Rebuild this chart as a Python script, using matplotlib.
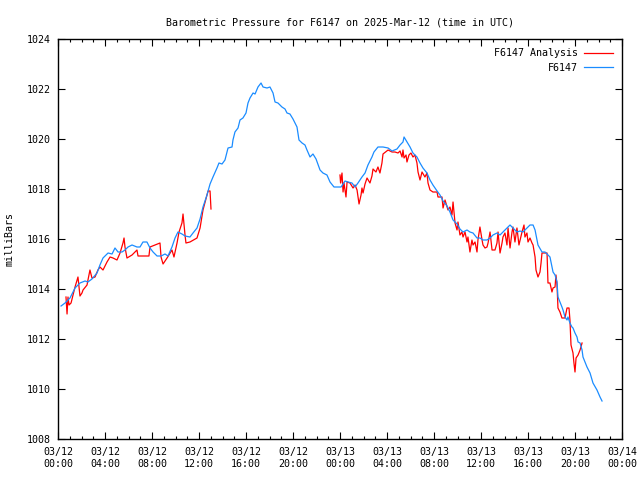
"""
Barometric pressure chart for station F6147 (gnuplot look)
"""

import numpy as np
import pandas as pd
import matplotlib
matplotlib.use('Agg')
import matplotlib.pyplot as plt
import matplotlib.dates as mdates
from matplotlib.ticker import MultipleLocator

matplotlib.rcParams['font.family'] = ['DejaVu Sans Mono']

START = pd.Timestamp('2025-03-12 00:00')

# station readings: hours after 03/12 00:00 UTC, milliBars
station_hours = [
    0.26, 0.60, 1.02, 1.45, 1.87, 2.30, 2.55, 2.89, 3.32, 3.57, 3.83, 4.26,
    4.60, 4.85, 5.11, 5.45, 5.70, 5.96, 6.30, 6.72, 6.98, 7.23, 7.57, 7.83,
    8.09, 8.43, 8.77, 9.11, 9.36, 9.70, 9.96, 10.21, 10.55, 10.81, 11.23,
    11.49, 11.83, 12.09, 12.34, 12.68, 12.94, 13.19, 13.53, 13.70, 13.96,
    14.21, 14.47, 14.81, 14.89, 15.06, 15.32, 15.49, 15.74, 16.00, 16.17,
    16.34, 16.60, 16.77, 17.02, 17.28, 17.45, 17.79, 18.04, 18.30, 18.47,
    18.72, 19.06, 19.32, 19.49, 19.74, 20.00, 20.34, 20.51, 20.77, 21.02,
    21.19, 21.45, 21.70, 21.96, 22.30, 22.55, 22.89, 23.15, 23.49, 23.83,
    24.09, 24.43, 24.68, 25.02, 25.28, 25.53, 25.87, 26.13, 26.38, 26.72,
    26.89, 27.23, 27.66, 28.09, 28.43, 28.85, 29.11, 29.36, 29.45, 29.70,
    29.96, 30.21, 30.55, 30.81, 31.06, 31.40, 31.66, 31.91, 32.26, 32.51,
    32.77, 33.11, 33.36, 33.62, 33.96, 34.21, 34.47, 34.81, 35.06, 35.32,
    35.66, 35.91, 36.17, 36.51, 36.77, 37.02, 37.36, 37.62, 37.87, 38.21,
    38.47, 38.72, 39.06, 39.32, 39.57, 39.91, 40.17, 40.43, 40.60, 40.77,
    40.85, 41.19, 41.45, 41.70, 41.87, 42.04, 42.13, 42.30, 42.47, 42.55,
    42.72, 42.89, 42.98, 43.15, 43.32, 43.40, 43.57, 43.74, 43.83, 44.00,
    44.17, 44.26, 44.43, 44.60, 44.68, 44.85, 45.02, 45.28, 45.53, 45.87,
    46.13, 46.30,
]
station_mb = [
    1013.32, 1013.44, 1013.64, 1014.04, 1014.24, 1014.32, 1014.28, 1014.40,
    1014.64, 1014.96, 1015.24, 1015.44, 1015.40, 1015.64, 1015.48, 1015.48,
    1015.56, 1015.68, 1015.76, 1015.68, 1015.68, 1015.88, 1015.88, 1015.64,
    1015.48, 1015.32, 1015.32, 1015.40, 1015.32, 1015.68, 1016.04, 1016.28,
    1016.20, 1016.12, 1016.08, 1016.24, 1016.44, 1016.80, 1017.28, 1017.76,
    1018.20, 1018.48, 1018.84, 1019.04, 1019.00, 1019.16, 1019.64, 1019.68,
    1019.96, 1020.28, 1020.44, 1020.76, 1020.84, 1021.04, 1021.44, 1021.64,
    1021.84, 1021.80, 1022.08, 1022.24, 1022.08, 1022.04, 1022.08, 1021.84,
    1021.48, 1021.44, 1021.28, 1021.20, 1021.04, 1021.00, 1020.80, 1020.48,
    1019.96, 1019.84, 1019.76, 1019.56, 1019.28, 1019.40, 1019.20, 1018.76,
    1018.64, 1018.56, 1018.28, 1018.08, 1018.08, 1018.08, 1018.32, 1018.28,
    1018.24, 1018.08, 1018.24, 1018.48, 1018.64, 1018.96, 1019.28, 1019.48,
    1019.68, 1019.68, 1019.64, 1019.52, 1019.60, 1019.76, 1019.88, 1020.08,
    1019.88, 1019.68, 1019.44, 1019.28, 1019.04, 1018.84, 1018.64, 1018.36,
    1018.16, 1017.92, 1017.76, 1017.52, 1017.32, 1017.08, 1016.76, 1016.60,
    1016.40, 1016.28, 1016.36, 1016.28, 1016.24, 1016.04, 1016.04, 1015.96,
    1015.96, 1016.04, 1016.16, 1016.24, 1016.16, 1016.28, 1016.44, 1016.56,
    1016.44, 1016.28, 1016.32, 1016.28, 1016.44, 1016.56, 1016.56, 1016.36,
    1015.96, 1015.76, 1015.48, 1015.48, 1015.36, 1015.28, 1014.88, 1014.68,
    1014.56, 1014.28, 1013.68, 1013.48, 1013.28, 1013.16, 1012.88, 1012.76,
    1012.88, 1012.64, 1012.48, 1012.44, 1012.24, 1012.08, 1011.88, 1011.84,
    1011.56, 1011.28, 1011.08, 1010.88, 1010.64, 1010.24, 1009.96, 1009.68,
    1009.52,
]

# analysis values, first run (03/12 morning)
analysis1_hours = [
    0.68, 0.77, 0.85, 0.94, 1.11, 1.28, 1.45, 1.62, 1.70, 1.87, 2.04, 2.13,
    2.47, 2.55, 2.72, 2.89, 3.15, 3.40, 3.57, 3.83, 4.17, 4.43, 4.68, 5.02,
    5.28, 5.53, 5.62, 5.70, 5.87, 6.30, 6.72, 6.81, 7.74, 7.83, 8.68, 8.77,
    8.94, 9.28, 9.70, 9.87, 10.13, 10.30, 10.55, 10.64, 10.81, 10.89, 11.23,
    11.83, 12.09, 12.34, 12.68, 12.77, 12.94, 13.02,
]
analysis1_mb = [
    1013.68, 1013.00, 1013.68, 1013.36, 1013.44, 1013.76, 1014.08, 1014.36,
    1014.48, 1013.72, 1013.84, 1013.96, 1014.16, 1014.36, 1014.76, 1014.44,
    1014.48, 1014.76, 1014.88, 1014.76, 1015.08, 1015.28, 1015.24, 1015.16,
    1015.44, 1015.84, 1016.04, 1015.68, 1015.24, 1015.36, 1015.56, 1015.32,
    1015.32, 1015.68, 1015.84, 1015.28, 1015.00, 1015.24, 1015.56, 1015.28,
    1015.84, 1016.28, 1016.64, 1017.00, 1016.16, 1015.84, 1015.88, 1016.04,
    1016.44, 1017.16, 1017.76, 1017.92, 1017.92, 1017.20,
]

# analysis values, second run (03/13)
analysis2_hours = [
    24.00, 24.05, 24.17, 24.26, 24.34, 24.51, 24.60, 24.85, 25.11, 25.28,
    25.45, 25.62, 25.79, 25.87, 25.96, 26.13, 26.30, 26.55, 26.72, 26.81,
    27.06, 27.23, 27.40, 27.57, 27.66, 28.09, 28.43, 28.68, 28.94, 29.11,
    29.28, 29.36, 29.45, 29.62, 29.70, 29.87, 30.04, 30.21, 30.38, 30.55,
    30.64, 30.81, 30.98, 31.23, 31.40, 31.49, 31.66, 31.91, 32.26, 32.34,
    32.68, 32.77, 32.94, 33.11, 33.19, 33.36, 33.53, 33.62, 33.79, 33.96,
    34.04, 34.21, 34.38, 34.47, 34.64, 34.81, 34.89, 35.06, 35.23, 35.32,
    35.49, 35.66, 35.74, 35.91, 36.09, 36.17, 36.34, 36.51, 36.60, 36.77,
    36.94, 37.19, 37.36, 37.45, 37.62, 37.79, 37.87, 38.04, 38.21, 38.30,
    38.47, 38.64, 38.72, 38.89, 39.06, 39.23, 39.49, 39.66, 39.74, 39.91,
    40.00, 40.17, 40.34, 40.43, 40.60, 40.68, 40.85, 41.02, 41.11, 41.19,
    41.62, 41.70, 41.87, 42.04, 42.13, 42.30, 42.38, 42.47, 42.55, 42.72,
    42.89, 43.15, 43.32, 43.49, 43.57, 43.66, 43.83, 43.91, 44.00, 44.09,
    44.26, 44.43, 44.60,
]
analysis2_mb = [
    1018.56, 1018.24, 1018.64, 1017.88, 1018.24, 1017.68, 1018.28, 1018.24,
    1018.04, 1018.16, 1017.96, 1017.40, 1017.76, 1018.04, 1017.84, 1018.20,
    1018.44, 1018.24, 1018.52, 1018.80, 1018.68, 1018.88, 1018.64, 1019.04,
    1019.40, 1019.56, 1019.48, 1019.48, 1019.44, 1019.52, 1019.28, 1019.56,
    1019.24, 1019.36, 1019.08, 1019.36, 1019.44, 1019.28, 1019.36, 1019.04,
    1018.68, 1018.36, 1018.68, 1018.48, 1018.64, 1018.24, 1017.96, 1017.88,
    1017.88, 1017.68, 1017.68, 1017.24, 1017.56, 1017.28, 1017.16, 1017.28,
    1016.96, 1017.48, 1016.64, 1016.36, 1016.68, 1016.16, 1016.28, 1016.08,
    1016.28, 1015.88, 1016.08, 1015.48, 1015.96, 1015.76, 1015.88, 1015.48,
    1015.96, 1016.48, 1015.96, 1015.76, 1015.64, 1015.68, 1015.84, 1016.28,
    1015.56, 1015.56, 1015.84, 1016.28, 1015.44, 1015.84, 1016.08, 1016.24,
    1015.76, 1016.44, 1015.64, 1016.28, 1016.48, 1015.88, 1016.44, 1015.76,
    1016.28, 1016.56, 1016.08, 1016.24, 1015.88, 1016.04, 1015.84, 1015.76,
    1015.28, 1014.76, 1014.48, 1014.68, 1015.04, 1015.44, 1015.44, 1014.24,
    1014.24, 1013.88, 1014.04, 1014.08, 1014.56, 1014.16, 1013.24, 1013.08,
    1012.84, 1012.84, 1013.24, 1013.24, 1012.76, 1011.76, 1011.44, 1011.04,
    1010.68, 1011.24, 1011.36, 1011.56, 1011.84,
]

STATION = 'F6147'
RED = '#ff0000'
BLUE = '#1a8cff'


def to_num(hours):
    """hours after START -> matplotlib date numbers"""
    times = START + pd.to_timedelta(np.asarray(hours), unit='h')
    return mdates.date2num(times.to_pydatetime())


fig = plt.figure(figsize=(6.4, 4.8), dpi=100)
ax = fig.add_axes([58 / 640, 1 - 439 / 480, 564 / 640, 400 / 480])

# analysis has a gap between the two runs
red_x = np.concatenate([to_num(analysis1_hours), [np.nan], to_num(analysis2_hours)])
red_y = np.concatenate([analysis1_mb, [np.nan], analysis2_mb])
ax.plot(red_x, red_y, color=RED, lw=0.9, label=f'{STATION} Analysis')
ax.plot(to_num(station_hours), station_mb, color=BLUE, lw=0.9, label=STATION)
ax.xaxis_date()

ax.set_xlim(to_num([0])[0], to_num([48])[0])
ax.set_ylim(1008, 1024)
ax.yaxis.set_major_locator(MultipleLocator(2))
ax.xaxis.set_major_locator(mdates.HourLocator(byhour=range(0, 24, 4)))
ax.xaxis.set_minor_locator(mdates.HourLocator())
ax.xaxis.set_major_formatter(mdates.DateFormatter('%m/%d\n%H:%M'))

ax.tick_params(which='both', direction='in', top=True, right=True,
               labelsize=7.2, colors='black', width=0.8)
ax.tick_params(which='major', length=5, pad=5)
ax.tick_params(which='minor', length=2.5)
ax.tick_params(axis='x', pad=6)
for s in ax.spines.values():
    s.set_linewidth(1.0)

ax.set_ylabel('milliBars', fontsize=7.2, labelpad=9)
ax.set_title(f'Barometric Pressure for {STATION} on 2025-Mar-12 (time in UTC)',
             fontsize=7.2, pad=10)

ax.legend(loc='upper right', frameon=False, markerfirst=False, fontsize=7.2,
          handlelength=2.9, handletextpad=0.6, labelspacing=0.45,
          borderaxespad=0.55)

fig.savefig('out.png', dpi=100)
